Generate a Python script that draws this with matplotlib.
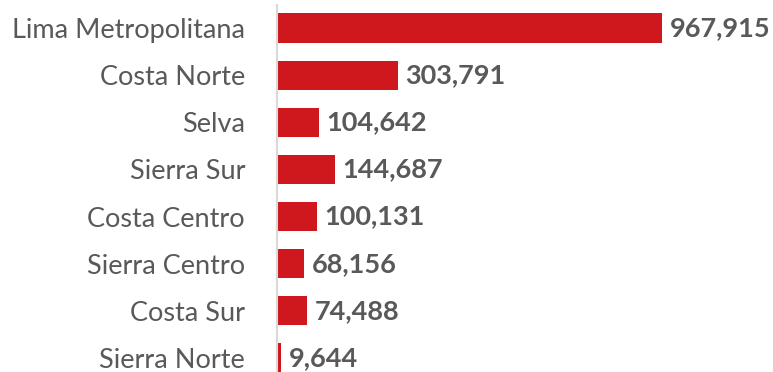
import matplotlib.pyplot as plt

regions = ["Lima Metropolitana", "Costa Norte", "Selva", "Sierra Sur",
           "Costa Centro", "Sierra Centro", "Costa Sur", "Sierra Norte"]
values = [967915, 303791, 104642, 144687, 100131, 68156, 74488, 9644]

bar_color = "#CE181E"
text_color = "#595959"

fig = plt.figure(figsize=(7.73, 3.72), dpi=100)
ax = fig.add_axes([277 / 773, 0, 1 - 277 / 773, 1 - 5 / 372])

pos = list(range(len(regions)))
ax.barh(pos, values, height=0.62, color=bar_color)

# value labels just right of each bar
for y, v in zip(pos, values):
    ax.annotate(f"{v:,}", xy=(v, y), xytext=(5.5, 0), textcoords="offset points",
                va="center", ha="left", fontsize=19.5, fontweight="bold",
                color=text_color, family="Lato")

ax.set_xlim(0, 1247000)
ax.set_ylim(7.3, -0.49)
ax.set_yticks(pos)
ax.set_yticklabels(regions, fontsize=19.5, color=text_color, family="Lato")
ax.tick_params(axis="y", length=0, pad=23)
ax.set_xticks([])

for side in ["top", "right", "bottom"]:
    ax.spines[side].set_visible(False)
ax.spines["left"].set_color("#D9D9D9")
ax.spines["left"].set_linewidth(1.5)

fig.savefig("out.png", dpi=100)
